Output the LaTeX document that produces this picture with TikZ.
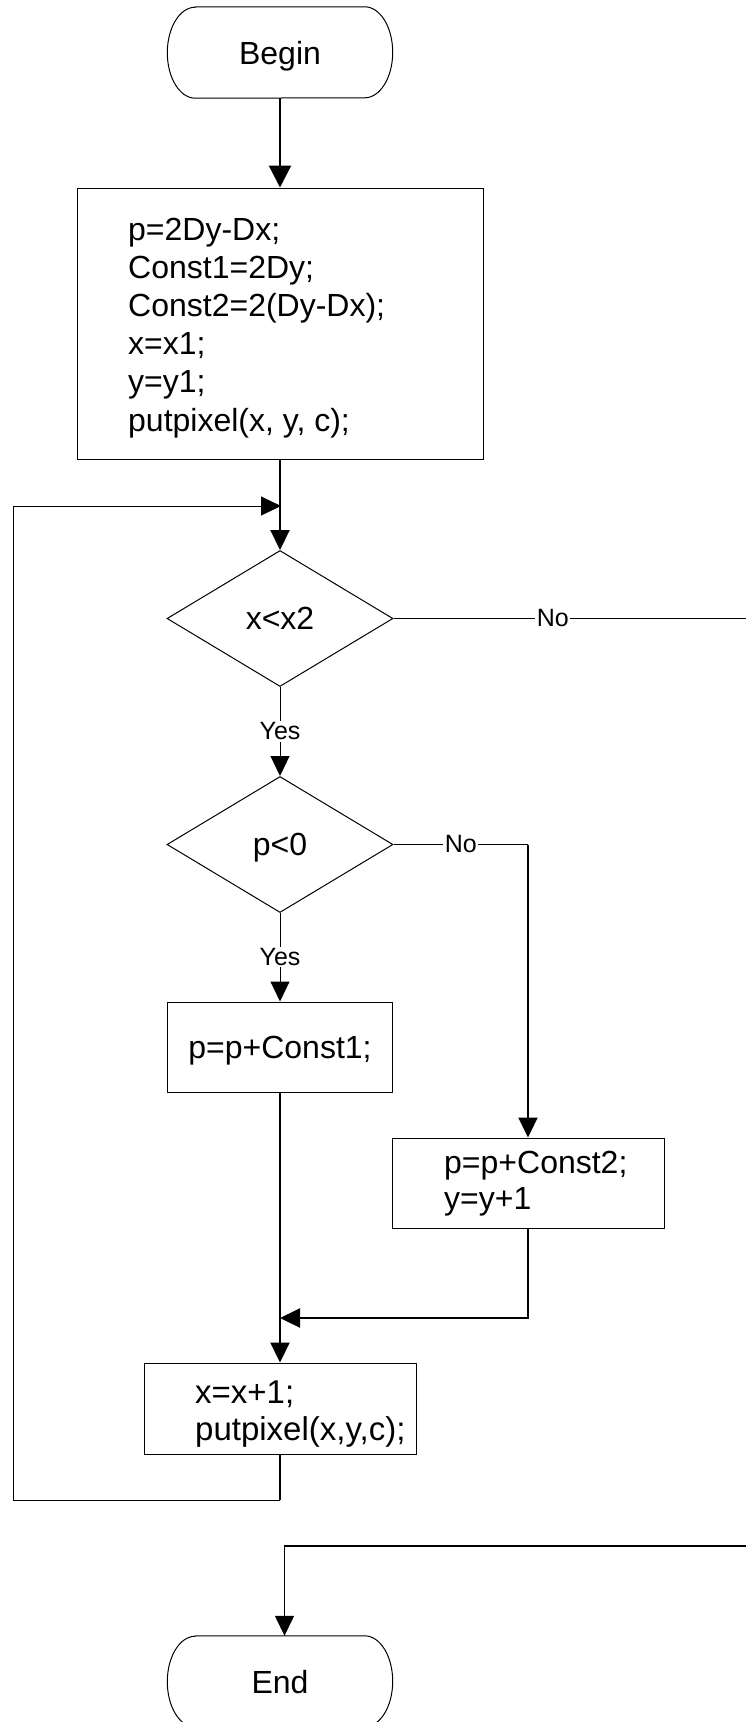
\documentclass[tikz,border=0pt]{standalone}
\usepackage{fontspec}
\setmainfont{Liberation Sans}
\usetikzlibrary{arrows.meta,shapes.geometric}
\begin{document}
\begin{tikzpicture}[x=1pt,y=-1pt,
  thinln/.style={line width=1pt},
  thickln/.style={line width=2.2pt},
  arr/.style={-{Triangle[length=20pt,width=19pt]}},
  boxst/.style={draw, line width=1pt, rectangle, inner sep=0pt},
  big/.style={font=\fontsize{32}{38}\selectfont},
  dia/.style={draw, line width=1pt, diamond, inner sep=0pt, minimum width=226pt, minimum height=136pt, big, text depth=0pt},
  lbl/.style={fill=white, inner sep=1.5pt, font=\fontsize{25}{29}\selectfont},
  term/.style={inner sep=0pt, minimum width=225pt, minimum height=91pt, big, text depth=0pt},
  txt/.style={big, anchor=base west, inner sep=0pt},
]
\useasboundingbox (0,0) rectangle (746,1722);

% nodes
\node[term] (begin) at (280,52.5) {Begin};
\draw[thinln] ([xshift=28pt]begin.north west) -- ([xshift=-28pt]begin.north east)
  arc[start angle=90,end angle=-90,x radius=28pt,y radius=45.5pt]
  -- ([xshift=28pt]begin.south west)
  arc[start angle=270,end angle=90,x radius=28pt,y radius=45.5pt] -- cycle;

\node[boxst, minimum width=406pt, minimum height=271pt] (box1) at (280,323.5) {};
\node[txt] (box1txt) at (128,240) {\vtop{\baselineskip=38.2pt
  \hbox{p=2Dy-Dx;}\hbox{Const1=2Dy;}\hbox{Const2=2(Dy-Dx);}\hbox{x=x1;}\hbox{y=y1;}\hbox{putpixel(x, y, c);}}};

\node[dia] (d1) at (280,618.5) {x<x2};
\node[dia] (d2) at (280,844.5) {p<0};

\node[boxst, minimum width=225pt, minimum height=90pt, big, text depth=0pt] (box2) at (280,1047) {p=p+Const1;};

\node[boxst, minimum width=272pt, minimum height=90pt] (box3) at (528,1183) {};
\node[txt] (box3txt) at (444,1173) {\vtop{\baselineskip=36pt
  \hbox{p=p+Const2;}\hbox{y=y+1}}};

\node[boxst, minimum width=272pt, minimum height=91pt] (box4) at (280,1408.5) {};
\node[txt, font=\fontsize{33}{38}\selectfont] (box4txt) at (195,1403) {\vtop{\baselineskip=37.5pt
  \hbox{x=x+1;}\hbox{putpixel(x,y,c);}}};

\node[term] (term2) at (280,1681.5) {End};
\draw[thinln] ([xshift=28pt]term2.north west) -- ([xshift=-28pt]term2.north east)
  arc[start angle=90,end angle=-90,x radius=28pt,y radius=45.5pt]
  -- ([xshift=28pt]term2.south west)
  arc[start angle=270,end angle=90,x radius=28pt,y radius=45.5pt] -- cycle;

% coordinates
\coordinate (merge1) at (281,506);
\coordinate (loopTL) at (13,506);
\coordinate (loopBL) at (13,1500);
\coordinate (noR) at (750,618.5);
\coordinate (join) at (280,1318);
\coordinate (endR) at (750,1546);

% connectors
\draw[thickln,-{Triangle[length=22pt,width=22pt]}] (begin.south) -- (box1.north);
\draw[thickln,arr] (box1.south) -- (d1.north);
\draw[thinln] (d1.east) -- node[lbl,pos=0.447] {No} (noR);
\draw[thinln,arr] (d1.south) -- node[lbl] {Yes} (d2.north);
\draw[thinln] (d2.east) -- node[lbl] {No} (d2.east -| box3.north) coordinate (c2);
\draw[thickln,arr] (c2) -- (box3.north);
\draw[thinln,arr] (d2.south) -- node[lbl] {Yes} (box2.north);
\draw[thickln,arr] (box2.south) -- (box4.north);
\draw[thickln,arr] (box3.south) |- (join);
\draw[thickln] (box4.south) -- (box4.south |- loopBL) coordinate (loopB);
\draw[thinln,arr] (loopB) -- (loopBL) -- (loopTL) -- (merge1);
\draw[line width=1.3pt,arr] (endR) -| ([xshift=4.5pt]term2.north);
\end{tikzpicture}
\end{document}
